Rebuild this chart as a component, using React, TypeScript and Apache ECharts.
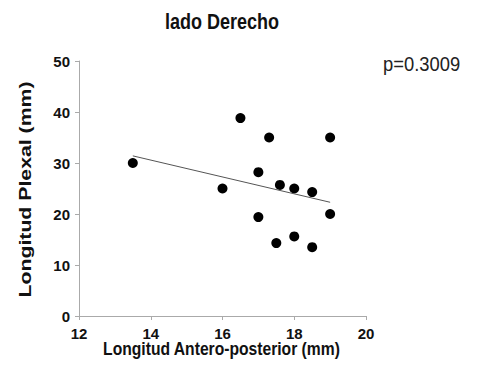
import React, { useEffect, useRef } from "react";
import * as echarts from "echarts";

const xValues = [13.5, 16.0, 16.5, 17.3, 17.0, 17.0, 17.6, 17.5, 18.0, 18.0, 18.5, 18.5, 19.0, 19.0];
const yValues = [30.0, 25.0, 38.8, 35.0, 28.2, 19.4, 25.7, 14.3, 25.0, 15.6, 24.3, 13.5, 35.0, 20.0];
const trendX = [13.5, 19.0];
const trendY = [31.4, 22.3];
const xTicks = [12, 14, 16, 18, 20];
const yTicks = [0, 10, 20, 30, 40, 50];
const titleText = "lado Derecho";
const pText = "p=0.3009";
const xName = "Longitud Antero-posterior (mm)";
const yName = "Longitud Plexal (mm)";

export default function App() {
  const ref = useRef<HTMLDivElement>(null);
  useEffect(() => {
    const chart = echarts.init(ref.current!, undefined, { renderer: "svg" });
    const sans = "'Liberation Sans', Arial, sans-serif";
    const txt = (
      text: string,
      x: number,
      y: number,
      size: number,
      bold: boolean,
      align: string,
      scaleX: number,
      rotation = 0,
      fill = "#111"
    ) => ({
      type: "text",
      x,
      y,
      rotation,
      scaleX,
      style: {
        text,
        fill,
        fontFamily: sans,
        fontSize: size,
        fontWeight: bold ? "bold" : "normal",
        textAlign: align,
        textVerticalAlign: "middle",
        align,
        verticalAlign: "middle",
      },
    });
    chart.setOption({
      animation: false,
      backgroundColor: "#ffffff",
      graphic: [
        txt(titleText, 222, 21, 22, true, "center", 0.82),
        txt(pText, 383, 64.5, 20, false, "left", 0.92, 0, "#222"),
        txt(xName, 221.5, 349.5, 18, true, "center", 0.87),
        txt(yName, 25.5, 189.5, 17, true, "center", 1.25, Math.PI / 2),
      ],
      grid: { left: 79, right: 119, top: 61, bottom: 61 },
      xAxis: {
        type: "value",
        min: xTicks[0],
        max: xTicks[xTicks.length - 1],
        interval: 2,
        axisLine: { show: true, lineStyle: { color: "#aaa", width: 1 } },
        axisTick: { show: true, length: 4, lineStyle: { color: "#aaa" } },
        axisLabel: { fontFamily: sans, fontSize: 15, fontWeight: "bold", color: "#111", margin: 10 },
        splitLine: { show: false },
      },
      yAxis: {
        type: "value",
        min: yTicks[0],
        max: yTicks[yTicks.length - 1],
        interval: 10,
        axisLine: { show: true, lineStyle: { color: "#aaa", width: 1 } },
        axisTick: { show: true, length: 4, lineStyle: { color: "#aaa" } },
        axisLabel: { fontFamily: sans, fontSize: 15, fontWeight: "bold", color: "#111", margin: 9 },
        splitLine: { show: false },
      },
      series: [
        {
          type: "line",
          data: trendX.map((x, i) => [x, trendY[i]]),
          symbol: "none",
          lineStyle: { color: "#555", width: 1 },
          silent: true,
        },
        {
          type: "scatter",
          data: xValues.map((x, i) => [x, yValues[i]]),
          symbol: "circle",
          symbolSize: 10,
          itemStyle: { color: "#000", opacity: 1 },
        },
      ],
    });
    return () => chart.dispose();
  }, []);
  return <div ref={ref} style={{ position: "absolute", left: 0, top: 0, width: 485, height: 377 }} />;
}
